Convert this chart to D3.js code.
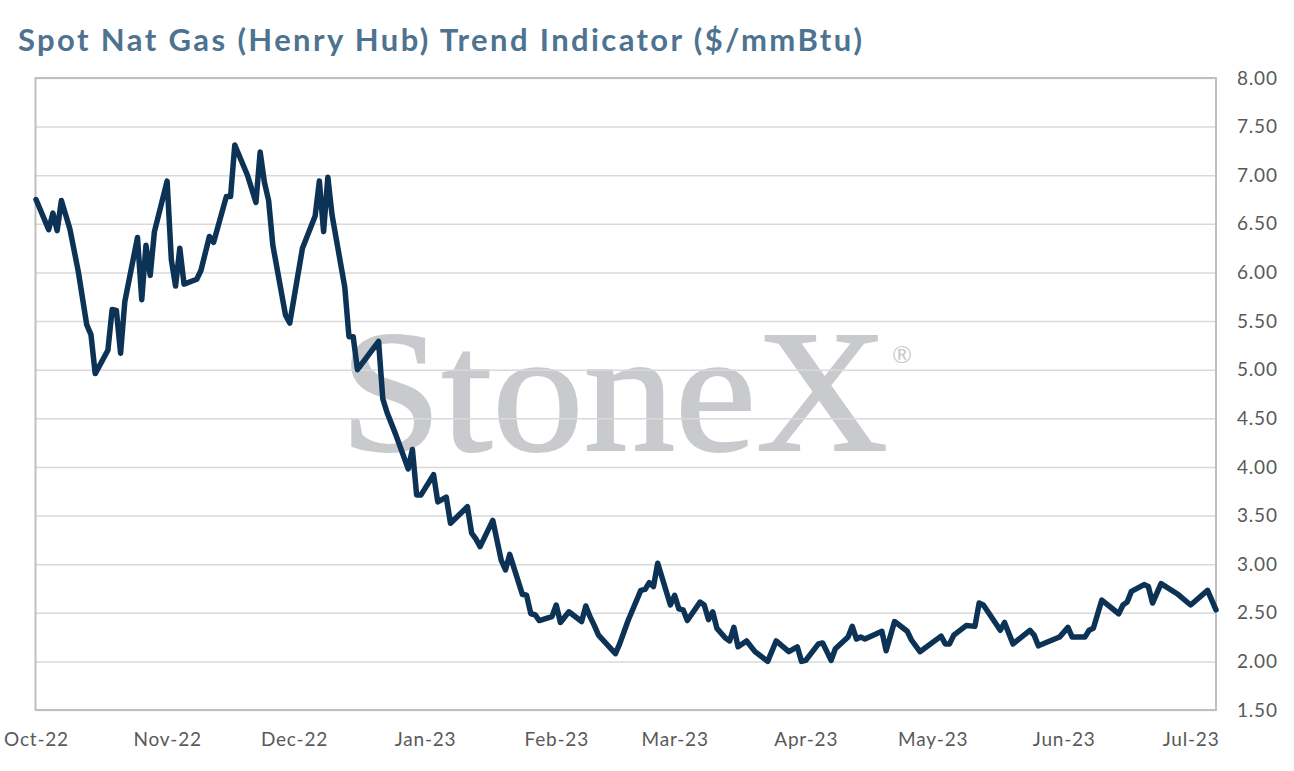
<!DOCTYPE html>
<html><head><meta charset="utf-8">
<script src="https://cdn.jsdelivr.net/npm/d3@7"></script>
<style>body{margin:0;background:#fff}svg{display:block}</style>
</head><body><svg id="c" width="1294" height="771"></svg>
<script>
const title = "Spot Nat Gas (Henry Hub) Trend Indicator ($/mmBtu)";
const dates = ["2022-10-01","2022-10-04","2022-10-05","2022-10-06","2022-10-07","2022-10-09","2022-10-11","2022-10-13","2022-10-14","2022-10-15","2022-10-18","2022-10-19","2022-10-20","2022-10-21","2022-10-22","2022-10-25","2022-10-26","2022-10-27","2022-10-28","2022-10-29",
"2022-11-01","2022-11-02","2022-11-03","2022-11-04","2022-11-05","2022-11-08","2022-11-09","2022-11-11","2022-11-12","2022-11-15","2022-11-16","2022-11-17","2022-11-20","2022-11-22","2022-11-23","2022-11-24","2022-11-25","2022-11-26","2022-11-29","2022-11-30",
"2022-12-03","2022-12-06","2022-12-07","2022-12-08","2022-12-09","2022-12-10","2022-12-13","2022-12-14","2022-12-15","2022-12-16","2022-12-21","2022-12-22","2022-12-23","2022-12-25","2022-12-28","2022-12-29","2022-12-30","2022-12-31",
"2023-01-03","2023-01-04","2023-01-06","2023-01-07","2023-01-11","2023-01-12","2023-01-13","2023-01-14","2023-01-17","2023-01-19","2023-01-20","2023-01-21","2023-01-24","2023-01-25","2023-01-26","2023-01-27","2023-01-28","2023-01-31",
"2023-02-01","2023-02-02","2023-02-04","2023-02-07","2023-02-08","2023-02-09","2023-02-10","2023-02-11","2023-02-15","2023-02-16","2023-02-18","2023-02-21","2023-02-22","2023-02-23","2023-02-24","2023-02-25","2023-02-28",
"2023-03-01","2023-03-02","2023-03-03","2023-03-04","2023-03-07","2023-03-08","2023-03-09","2023-03-10","2023-03-11","2023-03-13","2023-03-14","2023-03-15","2023-03-16","2023-03-18","2023-03-20","2023-03-23","2023-03-25","2023-03-28","2023-03-30","2023-03-31",
"2023-04-01","2023-04-04","2023-04-05","2023-04-07","2023-04-08","2023-04-11","2023-04-12","2023-04-13","2023-04-14","2023-04-15","2023-04-19","2023-04-20","2023-04-22","2023-04-25","2023-04-26","2023-04-28",
"2023-05-03","2023-05-04","2023-05-05","2023-05-06","2023-05-09","2023-05-11","2023-05-12","2023-05-13","2023-05-17","2023-05-18","2023-05-20","2023-05-24","2023-05-25","2023-05-26","2023-05-31",
"2023-06-02","2023-06-03","2023-06-06","2023-06-07","2023-06-08","2023-06-10","2023-06-14","2023-06-15","2023-06-16","2023-06-17","2023-06-20","2023-06-21","2023-06-22","2023-06-24","2023-06-28",
"2023-07-01","2023-07-05","2023-07-07"];
const values = [6.75,6.44,6.61,6.43,6.74,6.45,6.01,5.46,5.36,4.96,5.20,5.62,5.61,5.17,5.70,6.36,5.72,6.28,5.97,6.42,
6.94,6.13,5.86,6.25,5.88,5.93,6.02,6.37,6.31,6.78,6.78,7.31,7.00,6.72,7.24,6.93,6.74,6.28,5.56,5.48,
6.25,6.58,6.94,6.42,6.98,6.59,5.85,5.34,5.34,5.00,5.29,4.70,4.56,4.34,3.98,4.18,3.71,3.71,
3.92,3.64,3.69,3.42,3.59,3.32,3.26,3.18,3.45,3.04,2.94,3.10,2.69,2.68,2.49,2.48,2.42,2.46,
2.58,2.40,2.51,2.41,2.57,2.46,2.37,2.27,2.08,2.18,2.42,2.73,2.74,2.81,2.77,3.01,2.58,
2.68,2.54,2.53,2.42,2.61,2.58,2.43,2.51,2.34,2.24,2.21,2.35,2.15,2.21,2.10,2.00,2.21,2.10,2.15,2.00,
2.01,2.18,2.19,2.01,2.13,2.25,2.36,2.23,2.25,2.23,2.31,2.11,2.41,2.31,2.22,2.10,
2.26,2.18,2.18,2.27,2.37,2.36,2.60,2.58,2.32,2.40,2.18,2.32,2.27,2.16,2.25,
2.35,2.25,2.25,2.32,2.34,2.63,2.49,2.58,2.61,2.72,2.79,2.77,2.60,2.80,2.69,
2.58,2.73,2.53];
const yTicks = [1.5,2.0,2.5,3.0,3.5,4.0,4.5,5.0,5.5,6.0,6.5,7.0,7.5,8.0];
const xTickDates = ["2022-10-01","2022-11-01","2022-12-01","2023-01-01","2023-02-01","2023-03-01","2023-04-01","2023-05-01","2023-06-01","2023-07-01"];
const xTickLabels = ["Oct-22","Nov-22","Dec-22","Jan-23","Feb-23","Mar-23","Apr-23","May-23","Jun-23","Jul-23"];
const xDomain = ["2022-10-01","2023-07-07"];

const parse = d3.utcParse("%Y-%m-%d");
const data = dates.map((d,i)=>({date:parse(d), value:values[i]}));
const svg = d3.select("#c");
const L=36, R=1216, T=78, B=710;
const x = d3.scaleUtc().domain(xDomain.map(parse)).range([L,R]);
const y = d3.scaleLinear().domain([1.5,8]).range([B,T]);
const font = "Lato, 'Open Sans', sans-serif";

svg.append("rect").attr("width",1294).attr("height",771).attr("fill","#fff");

// title
svg.append("text").attr("x",18).attr("y",51).text(title)
  .attr("font-family",font).attr("font-weight",700).attr("font-size",31)
  .attr("fill","#4d7391").attr("textLength",844).attr("lengthAdjust","spacing");

// watermark
svg.append("text").attr("x",340).attr("y",450).text("StoneX")
  .attr("font-family","'Liberation Serif','DejaVu Serif',serif").attr("font-size",174)
  .attr("fill","#c9cacd").attr("stroke","#c9cacd").attr("stroke-width",2)
  .attr("textLength",548).attr("lengthAdjust","spacingAndGlyphs");
svg.append("text").attr("x",892).attr("y",363).text("®")
  .attr("font-family",font).attr("font-size",24).attr("fill","#c9cacd");

// grid
const yAxis = d3.axisRight(y).tickValues(yTicks).tickSize(-(R-L)).tickFormat(d3.format(".2f"));
const gy = svg.append("g").attr("transform",`translate(${R},0)`).call(yAxis);
gy.select(".domain").remove();
gy.selectAll(".tick line").attr("stroke","#d9d9d9").attr("stroke-width",1.5);
gy.selectAll(".tick text").attr("x",21).attr("fill","#595959")
  .attr("font-family",font).attr("font-size",19).attr("letter-spacing","0.8px");

// x axis labels
const xAxis = d3.axisBottom(x).tickValues(xTickDates.map(parse)).tickSize(0)
  .tickFormat((d,i)=>xTickLabels[i]);
const gx = svg.append("g").attr("transform",`translate(0,${B})`).call(xAxis);
gx.select(".domain").remove();
gx.selectAll(".tick text").attr("y",30).attr("dy","0.32em").attr("fill","#595959")
  .attr("font-family",font).attr("font-size",19).attr("letter-spacing","0.8px");

// border
svg.append("rect").attr("x",L-0.5).attr("y",T).attr("width",R-L+0.5).attr("height",B-T)
  .attr("fill","none").attr("stroke","#bfbfbf").attr("stroke-width",2);

// line
svg.append("path").datum(data)
  .attr("d",d3.line().x(d=>x(d.date)).y(d=>y(d.value)))
  .attr("fill","none").attr("stroke","#0c3256").attr("stroke-width",5.5)
  .attr("stroke-linejoin","round").attr("stroke-linecap","round");
</script></body></html>
